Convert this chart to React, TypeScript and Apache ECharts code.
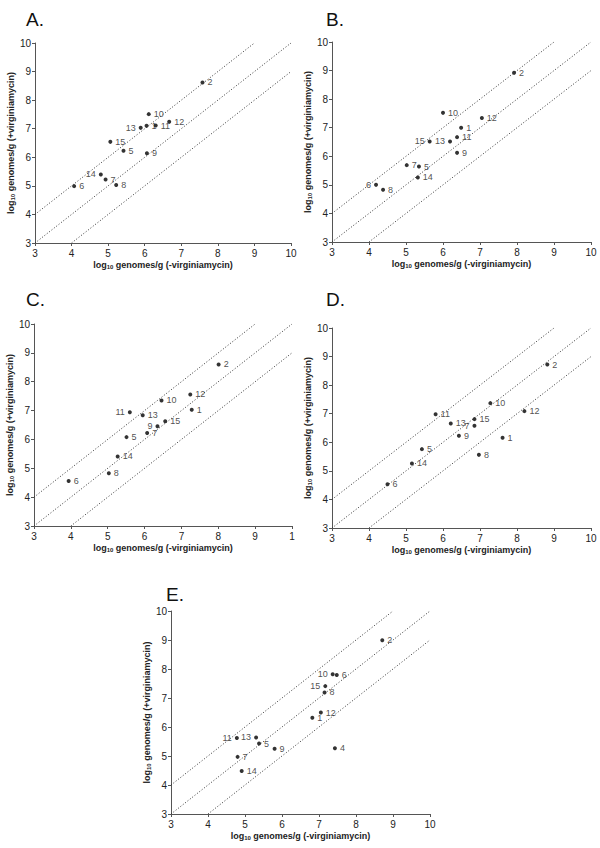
import React, { useEffect, useRef } from "react";
import * as echarts from "echarts";

// Panel A
const A_ID = [1, 2, 5, 6, 7, 8, 9, 10, 11, 12, 13, 14, 15];
const A_X = [6.05, 7.58, 5.42, 4.07, 4.93, 5.22, 6.06, 6.11, 6.3, 6.67, 5.89, 4.8, 5.06];
const A_Y = [7.1, 8.62, 6.23, 4.99, 5.22, 5.03, 6.14, 7.51, 7.11, 7.24, 7.03, 5.4, 6.54];
const A_LEFT = [13, 14];
// Panel B
const B_ID = [1, 2, 5, 6, 7, 8, 9, 10, 11, 12, 13, 14, 15];
const B_X = [6.49, 7.92, 5.35, 4.19, 5.02, 4.38, 6.38, 6.0, 6.38, 7.05, 6.19, 5.32, 5.64];
const B_Y = [7.0, 8.92, 5.64, 5.0, 5.69, 4.83, 6.12, 7.52, 6.67, 7.34, 6.52, 5.26, 6.52];
const B_LEFT = [6, 13, 15];
// Panel C
const C_ID = [1, 2, 5, 6, 7, 8, 9, 10, 11, 12, 13, 14, 15];
const C_X = [7.28, 8.01, 5.51, 3.94, 6.07, 5.03, 6.35, 6.46, 5.6, 7.24, 5.95, 5.27, 6.56];
const C_Y = [7.03, 8.6, 6.08, 4.56, 6.22, 4.83, 6.46, 7.35, 6.94, 7.56, 6.84, 5.41, 6.63];
const C_LEFT = [9, 11];
// Panel D
const D_ID = [1, 2, 5, 6, 7, 8, 9, 10, 11, 12, 13, 14, 15];
const D_X = [7.61, 8.82, 5.43, 4.5, 6.85, 6.97, 6.43, 7.28, 5.8, 8.2, 6.21, 5.16, 6.85];
const D_Y = [6.16, 8.72, 5.76, 4.53, 6.58, 5.56, 6.23, 7.37, 6.98, 7.09, 6.66, 5.26, 6.81];
const D_LEFT = [7];
// Panel E
const E_ID = [1, 2, 4, 5, 6, 7, 8, 9, 10, 11, 12, 13, 14, 15];
const E_X = [6.82, 8.71, 7.43, 5.38, 7.48, 4.8, 7.15, 5.8, 7.37, 4.78, 7.05, 5.3, 4.91, 7.17];
const E_Y = [6.32, 8.99, 5.27, 5.43, 7.79, 4.97, 7.19, 5.25, 7.82, 5.62, 6.5, 5.64, 4.48, 7.41];
const E_LEFT = [10, 11, 13, 15];

const PANEL_TITLES = ["A.", "B.", "C.", "D.", "E."];
const AXIS_MIN = 3;
const AXIS_MAX = 10;
// reference lines y = x + 1, y = x, y = x - 1
const REF_LINES = [
  [[3, 4], [9, 10]],
  [[3, 3], [10, 10]],
  [[4, 3], [10, 9]],
];
const X_NAME = "{a|log}{s|10}{a| genomes/g (-virginiamycin)}";
const Y_NAME = "{a|log}{s|10}{a| genomes/g (+virginiamycin)}";

const FONT = "Liberation Sans, Arial, sans-serif";

const PANELS = [
  { id: A_ID, x: A_X, y: A_Y, left: A_LEFT },
  { id: B_ID, x: B_X, y: B_Y, left: B_LEFT },
  { id: C_ID, x: C_X, y: C_Y, left: C_LEFT },
  { id: D_ID, x: D_X, y: D_Y, left: D_LEFT },
  { id: E_ID, x: E_X, y: E_Y, left: E_LEFT },
];

const GRIDS = [
  { left: 35, top: 43, width: 256, height: 200 },
  { left: 332, top: 42, width: 259, height: 200 },
  { left: 34, top: 324, width: 258, height: 202 },
  { left: 332, top: 328, width: 259, height: 200 },
  { left: 171, top: 611, width: 259, height: 203 },
];
const TITLE_POS = [
  { left: 21, top: 5 },
  { left: 321, top: 5 },
  { left: 21, top: 285 },
  { left: 321, top: 285 },
  { left: 161, top: 580 },
];

const nameRich = {
  a: { fontSize: 9, fontWeight: "bold", fontFamily: FONT, color: "#222" },
  s: { fontSize: 6, fontWeight: "bold", fontFamily: FONT, color: "#222", verticalAlign: "bottom", padding: [4, 0, 0, 0] },
};

export default function App() {
  const ref = useRef<HTMLDivElement>(null);
  useEffect(() => {
    if (!ref.current) return;
    const chart = echarts.init(ref.current, undefined, { renderer: "svg" });
    const xAxis: any[] = [];
    const yAxis: any[] = [];
    const series: any[] = [];
    const axisCommon = {
      min: AXIS_MIN,
      max: AXIS_MAX,
      interval: 1,
      splitLine: { show: false },
      axisLine: { show: true, lineStyle: { color: "#555", width: 1 } },
      axisTick: { show: true, length: 3, lineStyle: { color: "#555" } },
    };
    PANELS.forEach((p, i) => {
      xAxis.push({
        ...axisCommon,
        type: "value",
        gridIndex: i,
        name: X_NAME,
        nameLocation: "middle",
        nameGap: 17,
        nameTextStyle: { rich: nameRich },
        axisLabel: {
          fontSize: 10,
          fontFamily: FONT,
          color: "#222",
          margin: 5,
          formatter: (v: number) => (i === 2 && v === 10 ? "1" : String(v)),
        },
      });
      yAxis.push({
        ...axisCommon,
        type: "value",
        gridIndex: i,
        name: Y_NAME,
        nameLocation: "middle",
        nameGap: 19,
        nameTextStyle: { rich: nameRich },
        axisLabel: { fontSize: 10, fontFamily: FONT, color: "#222", margin: 4 },
      });
      REF_LINES.forEach((ln) => {
        series.push({
          type: "line",
          xAxisIndex: i,
          yAxisIndex: i,
          data: ln,
          symbol: "none",
          silent: true,
          lineStyle: { color: "#333", width: 1, type: [1, 2] },
        });
      });
      series.push({
        type: "scatter",
        xAxisIndex: i,
        yAxisIndex: i,
        symbolSize: 4,
        itemStyle: { color: "#000" },
        label: {
          show: true,
          position: "right",
          distance: 3,
          fontSize: 9,
          fontFamily: FONT,
          color: "#222",
          formatter: (prm: any) => String(prm.value[2]),
        },
        data: p.id.map((id, k) => {
          const item: any = { value: [p.x[k], p.y[k], id] };
          if (p.left.includes(id)) item.label = { position: "left" };
          return item;
        }),
      });
    });
    chart.setOption({
      animation: false,
      backgroundColor: "#fff",
      title: PANEL_TITLES.map((t, i) => ({
        text: t,
        left: TITLE_POS[i].left,
        top: TITLE_POS[i].top,
        textStyle: { fontSize: 19, fontWeight: "normal", fontFamily: FONT, color: "#111" },
      })),
      grid: GRIDS,
      xAxis,
      yAxis,
      series,
    });
    return () => chart.dispose();
  }, []);
  return (
    <div
      ref={ref}
      style={{ position: "fixed", left: 0, top: 0, width: 600, height: 848, background: "#fff" }}
    />
  );
}
